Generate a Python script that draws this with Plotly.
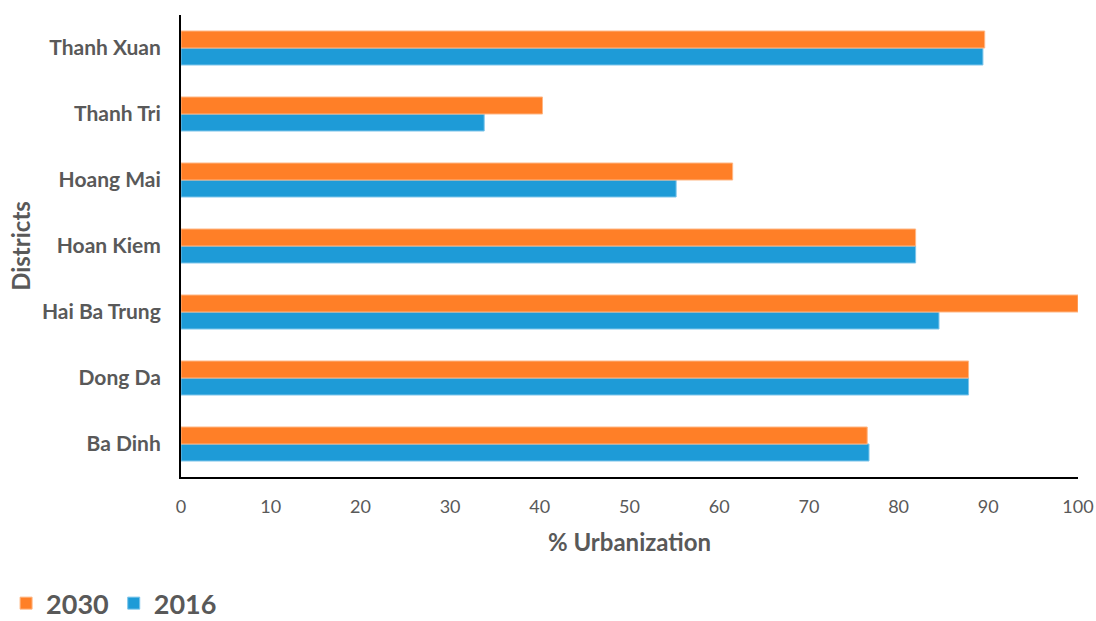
import plotly.graph_objects as go

districts = ["Ba Dinh", "Dong Da", "Hai Ba Trung", "Hoan Kiem", "Hoang Mai", "Thanh Tri", "Thanh Xuan"]
urban_2016 = [76.7, 87.8, 84.5, 81.9, 55.2, 33.8, 89.4]
urban_2030 = [76.5, 87.8, 100.0, 81.9, 61.5, 40.3, 89.6]
x_ticks = [0, 10, 20, 30, 40, 50, 60, 70, 80, 90, 100]

BLUE = "#1E9BD7"
ORANGE = "#FF7F27"
GREY = "#595959"
FONT = "Lato"

fig = go.Figure()
fig.add_trace(go.Bar(
    y=districts, x=urban_2016, orientation="h", name="2016",
    marker=dict(color=BLUE, line=dict(color="#7CC4EA", width=1)),
))
fig.add_trace(go.Bar(
    y=districts, x=urban_2030, orientation="h", name="2030",
    marker=dict(color=ORANGE, line=dict(color="#FFB784", width=1)),
))

fig.update_layout(
    width=1096, height=621,
    margin=dict(l=181, r=18, t=15, b=144, autoexpand=False),
    paper_bgcolor="white", plot_bgcolor="white",
    barmode="group", bargap=0.485, bargroupgap=0,
    font=dict(family=FONT, color=GREY),
    showlegend=True,
    legend=dict(
        orientation="h", traceorder="reversed",
        x=-0.195, xanchor="left", y=-0.274, yanchor="middle",
        font=dict(family=FONT, size=27, color=GREY, weight="bold"),
        itemwidth=30,
    ),
    xaxis=dict(
        range=[0, 100], tickvals=x_ticks, ticktext=[str(v) for v in x_ticks],
        showgrid=False, zeroline=False, automargin=False,
        showline=True, linecolor="black", linewidth=2,
        ticks="", ticklabelstandoff=12,
        tickfont=dict(family=FONT, size=18, color=GREY),
        title=dict(text="% Urbanization", standoff=19,
                   font=dict(family=FONT, size=24, color=GREY, weight="bold")),
    ),
    yaxis=dict(
        showgrid=False, zeroline=False, automargin=False,
        showline=True, linecolor="black", linewidth=2,
        ticks="", ticklabelstandoff=14,
        tickfont=dict(family=FONT, size=21, color=GREY, weight="bold"),
        title=dict(text="Districts", standoff=5,
                   font=dict(family=FONT, size=24, color=GREY, weight="bold")),
    ),
)

fig.write_html("out.html")
